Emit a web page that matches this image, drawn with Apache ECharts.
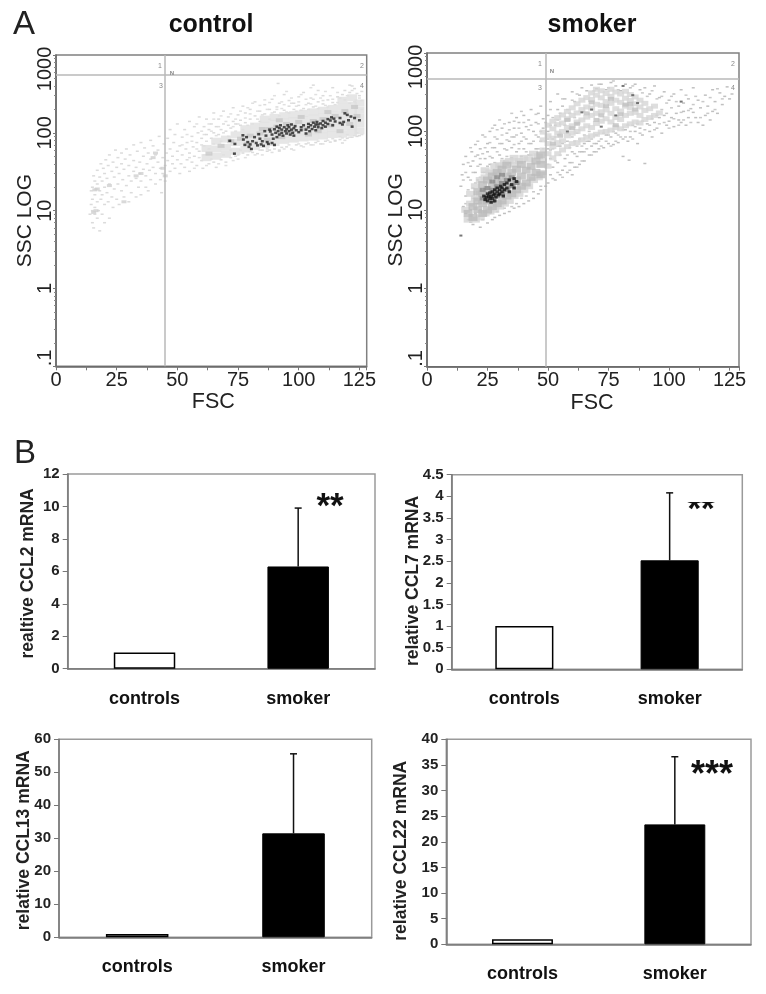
<!DOCTYPE html>
<html><head><meta charset="utf-8">
<style>html,body{margin:0;padding:0;background:#fff}#c{width:766px;height:994px}</style>
<script src="https://cdn.jsdelivr.net/npm/echarts@6/dist/echarts.min.js"></script>
</head><body><div id="c"></div>
<script>
// ---------- flow cytometry (FSC, SSC) ----------
const controlGate = [45, 558];
const smokerGate = [49, 476];
const controlCore = [[62,48],[62,63],[66,50],[66,62],[66,78],[70,53],[70,65],[70,83],[74,58],[74,75],[74,94],[78,62],[78,77],[78,93],[78,113],[82,67],[82,83],[82,100],[82,122],[86,71],[86,85],[86,103],[86,125],[86,150],[90,75],[90,92],[90,110],[90,133],[90,158],[94,80],[94,96],[94,116],[94,138],[94,166],[98,83],[98,100],[98,120],[98,143],[98,171],[102,86],[102,103],[102,122],[102,148],[102,178],[106,88],[106,106],[106,128],[106,155],[106,186],[110,91],[110,110],[110,133],[110,161],[110,195],[114,95],[114,115],[114,140],[114,170],[114,206],[118,96],[118,118],[118,145],[118,176],[118,216],[118,262],[122,101],[122,123],[122,150],[122,186],[122,226],[122,282],[125,106],[125,131],[125,160],[125,196],[125,242]];
const controlMid = [[63,54],[68,68],[72,78],[76,84],[80,92],[84,98],[87,82],[88,112],[91,120],[93,88],[95,130],[97,105],[100,138],[102,112],[104,95],[106,142],[108,105],[110,150],[113,125],[115,165],[117,105],[119,190],[121,130],[123,215],[124,165],[85,112],[79,72],[92,145],[101,160],[112,185]];
const controlLobe = [[15.5,9.5],[16.5,10],[16,18.5],[17,19],[22,21],[28,13],[33,28],[40,48],[35,30],[44,35],[41,55],[45,28]];
const controlSparse = [[14,9],[14.5,12],[14.5,18],[15,7],[15,10],[15,14],[15,20],[15.5,6],[15.5,28],[16,9],[16,11],[16,16],[16,24],[16.5,19],[17,8],[17,13],[17,22],[17,33],[17.5,10],[18,5.5],[18,18],[18,27],[18.5,14],[18.5,40],[19,9],[19,16],[19,24],[19.5,35],[20,7],[20,12],[20,20],[20,30],[20.5,45],[21,17],[21,26],[21.5,13],[21.5,38],[22,8],[22,22],[22,52],[23,15],[23,32],[23.5,11],[23.5,42],[24,19],[24,27],[24.5,60],[25,14],[25,36],[25.5,22],[25.5,48],[26,12],[26,30],[27,18],[27,40],[27,55],[27.5,25],[28,15],[28,34],[28.5,46],[29,21],[29,62],[30,13],[30,28],[30,38],[30.5,52],[31,17],[31,24],[32,32],[32,44],[32,70],[33,15],[33,26],[33,36],[33.5,58],[34,20],[34.5,30],[34.5,42],[35,16],[35,24],[35,75],[36,34],[36,50],[36.5,64],[37,20],[37,28],[37.5,40],[38,18],[38,55],[38.5,33],[39,25],[39,46],[39,80],[40,36],[40,68],[41,22],[41,30],[41,52],[42,42],[42,60],[42.5,90],[43,25],[43,35],[43.5,17],[44,48],[44,30],[44.5,72],[45,38],[45,24],[45.5,55],[46,44],[46,85],[47,32],[47,62],[47,110],[48,40],[48,50],[48.5,75],[49,35],[49,95],[50,45],[50,58],[50,130],[51,30],[51,68],[51.5,40],[52,52],[52,88],[53,36],[53,110],[53.5,62],[54,45],[54,75],[55,32],[55,55],[55,140],[56,42],[56,90],[56.5,66],[57,50],[57,120],[58,38],[58,75],[58.5,100],[59,58],[59,160],[60,44],[60,85],[60.5,35],[61,120],[61,68],[62,95],[62,150],[63,40],[63,110],[64,130],[64,85],[65,42],[65,100],[65,180],[66,120],[66,36],[67,150],[67,95],[68,45],[68,110],[69,130],[69,190],[70,42],[70,105],[71,160],[71,125],[72,48],[72,115],[73,140],[73,210],[74,50],[74,130],[75,170],[75,52],[76,125],[76,145],[77,220],[77,55],[78,135],[78,180],[79,52],[80,150],[80,200],[81,56],[82,165],[82,250],[83,54],[84,140],[84,190],[85,60],[86,175],[86,230],[87,58],[88,200],[88,60],[89,270],[90,62],[90,185],[91,215],[91.5,431],[92,60],[92,240],[93,65],[94,195],[94,310],[95,66],[96,220],[96,260],[97,62],[98,200],[98,240],[99,70],[100,225],[100,290],[101,68],[102,205],[102,330],[103,72],[104,240],[105,70],[105,280],[106,215],[106,410],[107,75],[108,250],[108,350],[109,72],[110,235],[110,300],[111,78],[112,265],[113,76],[114,245],[114,380],[115,80],[116,290],[117,82],[118,310],[118,74],[119,350],[120,85],[121,330],[121,410],[122,88],[122,400],[123,370],[124,90],[125,300],[125,92],[126,340]];
const controlSparseBand = [[52,70],[54,95],[55,48],[56,78],[57,35],[58,62],[58,130],[59,48],[60,105],[60,70],[61,52],[61,95],[62,38],[62,78],[63,130],[63,62],[64,105],[64,46],[65,72],[65,150],[66,92],[67,40],[67,120],[68,78],[68,165],[69,52],[69,100],[70,140],[70,38],[71,90],[72,175],[72,60],[73,120],[73,44],[74,150],[74,105],[75,46],[75,130],[76,190],[76,60],[77,110],[78,155],[78,48],[79,125],[79,210],[80,58],[80,175],[81,130],[81,240],[82,52],[83,190],[83,150],[84,60],[84,225],[85,170],[85,52],[86,265],[87,200],[87,62],[88,150],[88,245],[89,56],[89,180],[90,300],[90,68],[91,200],[92,165],[92,58],[93,250],[93,205],[94,62],[94,230],[95,185],[95,340],[96,70],[96,180],[97,280],[97,240],[98,60],[99,220],[99,190],[100,72],[100,250],[101,310],[101,195],[102,66],[103,230],[103,270],[104,74],[104,200],[105,380],[105,235],[106,70],[106,270],[107,310],[107,220],[108,78],[108,205],[109,280],[110,72],[110,260],[111,225],[111,340],[112,80],[112,215],[113,300],[114,84],[114,270],[115,230],[115,78],[116,330],[116,245],[117,90],[117,280],[118,86],[119,265],[119,80],[120,300],[120,95],[121,240],[121,88],[122,350],[123,92],[123,250],[124,320],[124,100],[125,280],[126,95],[126,200],[126,260]];
const controlBlack = [[71.6,79],[73.7,72],[73.5,54],[77,93],[77.2,82],[77.8,70],[78.5,88],[79,76],[79.5,66],[80,71],[80.5,62],[81,78],[81.8,88],[82.5,74],[83,69],[83.5,96],[84,84],[84.5,71],[85,78],[85.5,68],[86,105],[86.5,92],[87,76],[87.5,72],[88,110],[88.3,104],[89,95],[89,74],[89.5,84],[90,111],[90,70],[90.5,100],[91,88],[91,120],[91.5,105],[92,95],[92,115],[92.5,125],[93,100],[93,110],[93.5,92],[94,118],[94.5,105],[95,98],[95,112],[95.5,125],[96,105],[96,118],[96.5,95],[97,110],[97,128],[97.5,100],[98,115],[98,92],[98.5,122],[99,108],[100,102],[101,118],[101,108],[102,125],[103,110],[103,98],[104,130],[104,118],[104.5,105],[105,125],[105.5,112],[106,135],[106.5,120],[107,128],[107,108],[107.5,138],[108,118],[108,128],[109,132],[109.5,115],[110,125],[110,142],[111,135],[111,120],[112,150],[112,130],[113,144],[113.5,158],[114,125],[114.5,152],[115,140],[117,134],[117,155],[118,128],[118.5,138],[119,178],[120,170],[120.5,145],[121.5,162],[122,120],[123,155],[125,145]];

const smokerCore = [[48,30],[48,42],[48,58],[48,78],[48,98],[50,36],[50,52],[50,70],[50,88],[50,120],[52,46],[52,64],[52,82],[52,108],[52,135],[54,52],[54,72],[54,95],[54,122],[54,150],[56,58],[56,76],[56,100],[56,128],[56,162],[58,64],[58,88],[58,112],[58,145],[58,180],[60,70],[60,95],[60,118],[60,160],[60,200],[62,72],[62,100],[62,132],[62,172],[62,225],[64,78],[64,108],[64,140],[64,190],[64,250],[66,84],[66,118],[66,152],[66,205],[66,270],[68,88],[68,112],[68,160],[68,198],[68,255],[68,310],[70,92],[70,126],[70,170],[70,222],[70,290],[70,345],[72,98],[72,135],[72,178],[72,215],[72,268],[72,330],[74,100],[74,145],[74,188],[74,240],[74,305],[76,104],[76,132],[76,170],[76,228],[76,280],[76,345],[78,112],[78,150],[78,195],[78,250],[78,318],[80,108],[80,142],[80,182],[80,235],[80,300],[82,118],[82,160],[82,210],[82,265],[82,325],[84,125],[84,170],[84,200],[84,248],[84,295],[86,132],[86,175],[86,225],[86,275],[88,128],[88,160],[88,205],[88,250],[90,142],[90,185],[90,228],[92,150],[92,195],[94,160],[94,210],[96,172]];
const smokerHalo = [[16,10],[17,7.5],[18,12],[18,16],[20,7.5],[20,14],[20,20],[22,8],[22,16],[22,24],[24,9],[24,26],[24,32],[26,9.5],[26,30],[28,10],[28,30],[28,36],[30,11],[30,37],[32,12],[32,40],[34,13],[34,42],[36,15],[36,38],[36,46],[38,16],[38,42],[40,18],[40,46],[42,20],[42,44],[44,24],[44,52],[46,26],[46,48]];
const smokerGray = [[17,9],[19,11],[19,8],[21,10],[21,13],[21,17],[23,9],[23,12],[23,16],[23,21],[25,10],[25,13],[25,18],[25,24],[27,11],[27,15],[27,20],[27,27],[29,12],[29,16],[29,22],[29,30],[31,13],[31,18],[31,24],[31,33],[33,15],[33,20],[33,27],[33,37],[35,16],[35,22],[35,30],[37,18],[37,24],[37,33],[39,20],[39,27],[39,38],[41,22],[41,32],[43,26],[43,36],[45,30],[45,42],[47,28],[47,38],[47,50]];
const smokerMid = [[23,14],[23,18],[25,14],[25,19],[27,13],[27,18],[27,23],[29,15],[29,20],[29,26],[31,16],[31,22],[31,28],[33,18],[33,24],[35,20],[35,26],[37,22]];
const smokerCloudMid = [[66,170],[70,140],[78,120],[82,220],[86,190],[74,210],[62,125],[55,88],[60,110],[72,160],[80,165],[68,235],[76,260],[84,225],[52,70],[58,140]];
const smokerSparse = [[14.5,28],[14,20],[15,11],[15,38],[16,9],[16,15],[16,48],[17,7.5],[17,26],[18,7],[18,36],[18.5,55],[19,6.5],[19,19],[19,42],[20,30],[20,68],[21,8],[21,50],[21,24],[22,6],[22,38],[22,60],[23,7.5],[23,90],[24,45],[24,30],[25,6.8],[25,70],[25,55],[26,38],[26,100],[27,7.5],[27,46],[28,62],[28,8],[28,120],[29,36],[29,80],[30,8.5],[30,50],[31,70],[31,110],[32,9],[32,42],[33,58],[33,95],[34,9.5],[34,130],[34,75],[35,46],[35,62],[36,10.5],[36,85],[36,110],[37,55],[37,150],[38,11],[38,70],[38,130],[39,48],[39,95],[40,12],[40,60],[40,160],[41,80],[41,115],[42,13],[42,50],[42,140],[43,70],[43,190],[44,100],[44,14],[45,60],[45,130],[46,16],[46,85],[46,170],[47,75],[47,210],[47,18],[48,110],[48,145],[49,20],[50,22],[50,60],[50,100],[50,160],[51,28],[51,240],[51,45],[52,35],[52,80],[53,24],[53,120],[54,40],[54,300],[54,190],[55,28],[55,65],[56,32],[56,210],[57,45],[57,260],[58,30],[58,95],[59,40],[59,170],[60,28],[60,55],[60,320],[61,35],[61,240],[62,48],[62,125],[63,38],[63,290],[64,55],[64,360],[65,42],[65,70],[66,330],[67,50],[67,75],[68,65],[68,390],[69,55],[70,70],[70,350],[71,60],[72,400],[72,80],[73,62],[74,340],[74,90],[75,70],[76,420],[76,85],[77,68],[78,380],[78,95],[79,72],[80,330],[81,80],[81,48],[82,400],[82,105],[83,75],[83.5,43],[84,360],[84,85],[85,120],[86,400],[86,100],[87,70],[88,340],[88,110],[89,90],[90,360],[90,39],[91,125],[92,300],[92,100],[93,85],[94,380],[94,130],[95,110],[96,270],[96,150],[97,95],[98,320],[98,160],[99,120],[100,250],[100,135],[101,150],[102,300],[102,115],[103,170],[104,210],[104,140],[105,130],[105,340],[106,230],[106,180],[107,120],[108,260],[108,150],[109,195],[110,175],[110,360],[111,150],[112,250],[112,130],[113,200],[114,120],[115,290],[115,160],[116,210],[117,140],[118,340],[118,180],[119,240],[120,170],[121,310],[122,220],[123,280],[124,370],[125,260],[126,300]];
const smokerSparseExtra = [[15,24],[16,30],[16,12],[17,18],[17,40],[18,10],[18,24],[18,62],[19,14],[19,30],[20,9],[20,22],[20,48],[21,12],[21,36],[21,75],[22,10],[22,26],[22,45],[23,30],[23,52],[24,8.5],[24,62],[24,85],[25,36],[26,9],[26,48],[26,72],[27,62],[27,110],[28,40],[28,85],[29,9.5],[29,55],[29,105],[30,36],[30,70],[30,140],[31,45],[31,90],[32,10.5],[32,60],[32,125],[33,48],[33,78],[34,40],[34,105],[35,11],[35,85],[35,170],[36,68],[36,135],[37,12],[37,42],[37,90],[38,60],[38,110],[39,14],[39,75],[39,180],[40,85],[40,130],[41,55],[41,15],[42,70],[42,105],[43,50],[43,120],[44,17],[44,75],[45,90],[45,165],[46,60],[46,125],[47,20],[47,100],[48,60],[49,75],[49,130],[50,38],[50,80],[51,58],[51,120],[51,190],[52,25],[52,60],[52,150],[53,42],[53,85],[54,30],[54,65],[54,140],[55,50],[55,95],[55,170],[56,26],[56,70],[56,260],[57,36],[57,120],[58,50],[58,75],[58,190],[59,32],[59,62],[59,110],[60,40],[60,85],[60,250],[61,52],[61,75],[61,150],[62,35],[62,65],[62,95],[62,300],[63,55],[63,80],[64,42],[64,65],[65,90],[65,55],[66,60],[66,75],[67,100],[68,50],[68,80],[69,70],[69,330],[70,55],[70,90],[71,75],[71,400],[72,65],[73,95],[74,75],[75,90],[75,360],[76,65],[77,100],[77,440],[78,75],[79,90],[79,340],[80,85],[81,105],[82,85],[83,120],[84,100],[85,80],[85,380],[86,115],[87,125],[88,95],[89,135],[89,310],[90,105],[91,280],[92,120],[93,330],[93,145],[94,105],[95,160],[95,260],[96,125],[97,280],[97,190],[98,130],[99,230],[99,170],[100,110],[101,200],[101,280],[102,145],[103,240],[104,120],[105,175],[106,140],[107,290],[108,185],[109,130],[110,220],[111,280],[113,150],[114,240],[116,170],[117,270],[119,190],[120,350],[122,260]];
const smokerDark = [[14,4.7],[68,190],[78,160],[87,230],[72,115],[64,175],[85,290],[58,100],[81,380],[105,240]];
const smokerBlack = [[23.5,15],[24,13.5],[24.5,14.5],[25,16],[25,13],[25.5,15],[26,14],[26,16.5],[26.5,12.5],[26.5,15],[27,14],[27,17],[27.5,15.5],[28,13],[28,16],[28,18],[28.5,14.5],[29,17],[29,19],[29.5,15.5],[30,18],[30,16],[30.5,20],[31,17],[31,19],[31.5,15],[32,18],[32,21],[33,19],[33,22],[34,17],[34,24],[35,21],[36,25],[36,19],[37,23]];
const fscTicks = [0,25,50,75,100,125];

// ---------- mRNA bars ----------
const barCategories = ['controls','smoker'];
const ccl2Values = [1, 6.3];    const ccl2ErrTop = 9.9;
const ccl7Values = [1, 2.52];   const ccl7ErrTop = 4.08;
const ccl13Values = [1, 31.5];  const ccl13ErrTop = 55.6;
const ccl22Values = [1, 23.4];  const ccl22ErrTop = 36.6;

const FONT = '"Liberation Sans",Arial,sans-serif';
const grids=[], xAxes=[], yAxes=[], series=[];
function addGrid(box){grids.push(Object.assign({show:true,backgroundColor:'transparent',containLabel:false},box));return grids.length-1;}
function dots(i,data,color,size){series.push({type:'scatter',xAxisIndex:i,yAxisIndex:i,data,symbol:'rect',symbolSize:size,itemStyle:{color},silent:true,animation:false});}

function flowPanel(box,max,gate,layers,fscPad){
  const i=addGrid(Object.assign({borderColor:'#808080',borderWidth:1.5},box));
  xAxes.push({type:'value',gridIndex:i,min:0,max,interval:25,name:'FSC',nameLocation:'middle',nameGap:24,
    nameTextStyle:{fontFamily:FONT,fontSize:21.5,color:'#222',padding:fscPad},
    axisLine:{onZero:false,lineStyle:{color:'#666',width:1.5}},axisTick:{length:4,lineStyle:{color:'#777'}},
    minorTick:{show:true,splitNumber:2,length:4,lineStyle:{color:'#777'}},splitLine:{show:false},
    axisLabel:{fontFamily:FONT,fontSize:20,color:'#222',margin:4,customValues:fscTicks}});
  yAxes.push({type:'log',logBase:10,gridIndex:i,min:0.1,max:1000,name:'SSC LOG',nameLocation:'middle',nameGap:20,nameMoveOverlap:false,
    nameTextStyle:{fontFamily:FONT,fontSize:21,color:'#222',padding:[0,20,0,0]},
    axisLine:{onZero:false,lineStyle:{color:'#666',width:1.5}},axisTick:{length:3,lineStyle:{color:'#777'}},
    minorTick:{show:true,splitNumber:9,length:2,lineStyle:{color:'#888'}},splitLine:{show:false},minorSplitLine:{show:false},
    axisLabel:{fontFamily:FONT,fontSize:20,color:'#222',rotate:90,margin:1,
      formatter:v=>v<1?'   .1':(v>=1000?'1000     ':String(Math.round(v)))}});
  layers.forEach(l=>dots(i,l[0],l[1],l[2]));
  series.push({type:'scatter',xAxisIndex:i,yAxisIndex:i,data:[],silent:true,
    markLine:{silent:true,symbol:'none',animation:false,label:{show:false},lineStyle:{color:'#b8b8b8',width:1.5,type:'solid'},
      data:[{xAxis:gate[0]},{yAxis:gate[1]}]}});
}

function barPanel(box,values,errTop,yMax,yInt,name,gap,namePad){
  const i=addGrid(Object.assign({borderColor:'#9a9a9a',borderWidth:1.5},box));
  xAxes.push({type:'category',gridIndex:i,data:barCategories,
    axisLine:{onZero:false,lineStyle:{color:'#777',width:1.5}},axisTick:{alignWithLabel:false,length:5,lineStyle:{color:'#777'}},
    axisLabel:{fontFamily:FONT,fontSize:18,fontWeight:'bold',color:'#111',margin:21}});
  yAxes.push({type:'value',gridIndex:i,min:0,max:yMax,interval:yInt,name,nameLocation:'middle',nameGap:gap,nameMoveOverlap:false,
    nameTextStyle:{fontFamily:FONT,fontSize:17.5,fontWeight:'bold',color:'#222',padding:namePad},
    axisLine:{show:true,lineStyle:{color:'#777',width:1.5}},axisTick:{show:true,length:5,lineStyle:{color:'#777'}},splitLine:{show:false},
    axisLabel:{fontFamily:FONT,fontSize:15,fontWeight:'bold',color:'#222',margin:8}});
  series.push({type:'bar',xAxisIndex:i,yAxisIndex:i,barWidth:'40%',animation:false,silent:true,
    data:[{value:values[0],itemStyle:{color:'#fff',borderColor:'#000',borderWidth:1.5}},{value:values[1],itemStyle:{color:'#000',borderColor:'#000',borderWidth:1}}]});
  series.push({type:'custom',xAxisIndex:i,yAxisIndex:i,animation:false,silent:true,data:[[1,values[1],errTop]],
    renderItem:(p,api)=>{const a=api.coord([api.value(0),api.value(1)]),b=api.coord([api.value(0),api.value(2)]);
      const st={stroke:'#111',lineWidth:1.5};
      return {type:'group',children:[
        {type:'line',shape:{x1:a[0],y1:a[1],x2:b[0],y2:b[1]},style:st},
        {type:'line',shape:{x1:b[0]-3.5,y1:b[1],x2:b[0]+3.5,y2:b[1]},style:st}]};}});
}

flowPanel({left:56,top:55,width:310.7,height:311.3},128,controlGate,[
  [controlSparse,'#d2d2d2',[3,1.5]],[controlSparseBand,'#d8d8d8',[3,1.5]],[controlLobe,'#d0d0d0',[5,3]],[controlCore,'#e0e0e0',[10,7]],[controlMid,'#c8c8c8',[7,4]],[controlBlack,'#222',[3,2.5]]],[0,0,0,4]);
flowPanel({left:427,top:53,width:312,height:313.7},128.9,smokerGate,[
  [smokerSparse,'#b0b0b0',[3,1.5]],[smokerSparseExtra,'#bcbcbc',[3,1.5]],[smokerHalo,'#d4d4d4',[9,6]],[smokerCore,'#d6d6d6',[7,5]],[smokerCloudMid,'#c0c0c0',[6,4]],[smokerGray,'#bcbcbc',[9,7]],[smokerMid,'#8a8a8a',[6,4]],[smokerDark,'#555',[3,2]],[smokerBlack,'#111',[3.5,3]]],[0,0,0,18]);

barPanel({left:67.7,top:474,width:307.3,height:194.7},ccl2Values,ccl2ErrTop,12,2,'realtive CCL2 mRNA',31,[0,4,0,0]);
barPanel({left:451.7,top:474.7,width:290.6,height:194.6},ccl7Values,ccl7ErrTop,4.5,0.5,'relative CCL7 mRNA',30,[0,18,0,0]);
barPanel({left:59,top:739.3,width:312.7,height:198},ccl13Values,ccl13ErrTop,60,10,'relative CCL13 mRNA',26,[0,4,0,0]);
barPanel({left:446.3,top:739.3,width:304.7,height:205},ccl22Values,ccl22ErrTop,40,5,'relative CCL22 mRNA',36,[0,18,0,0]);

function txt(t,x,y,size,color,weight,align){return {type:'text',x,y,z:50,silent:true,style:{text:t,fill:color||'#222',fontFamily:FONT,fontSize:size,fontWeight:weight||'normal',textAlign:align||'center',textVerticalAlign:'middle'}};}
const graphics=[
  txt('A',24,25,33,'#222'),txt('B',25,454,33,'#222'),
  txt('control',211,25,25,'#111','bold'),txt('smoker',592,25,25,'#111','bold'),
  txt('1',160,66,7,'#888'),txt('2',362,66,7,'#888'),txt('3',161,86,7,'#888'),txt('4',362,86,7,'#888'),txt('N',172,73,6,'#888','bold'),
  txt('1',540,64,7,'#888'),txt('2',733,64,7,'#888'),txt('3',540,88,7,'#888'),txt('4',733,88,7,'#888'),txt('N',552,71,6,'#888','bold'),
  txt('**',330,507,35,'#111','bold'),
  txt('**',701,510,35,'#111','bold'),
  {type:'rect',z:51,silent:true,shape:{x:680,y:484,width:44,height:18},style:{fill:'#fff'}},
  txt('***',712,776,36,'#111','bold')
];

const chart=echarts.init(document.getElementById('c'),null,{renderer:'canvas'});
chart.setOption({animation:false,backgroundColor:'#fff',grid:grids,xAxis:xAxes,yAxis:yAxes,series,graphic:{elements:graphics}});
</script></body></html>
